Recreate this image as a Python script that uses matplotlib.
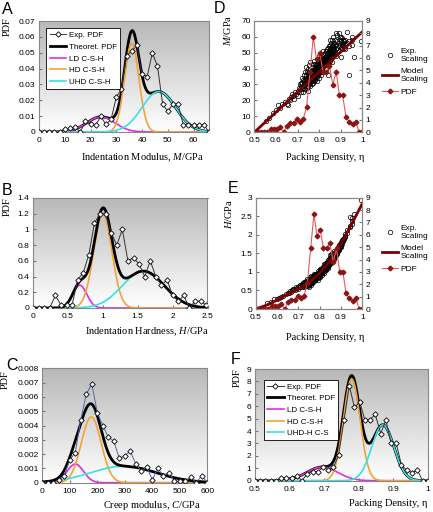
import numpy as np
import matplotlib.pyplot as plt
from matplotlib.ticker import FuncFormatter, MultipleLocator
from matplotlib.lines import Line2D

plt.rcParams['font.family'] = ['Liberation Sans', 'DejaVu Sans']
plt.rcParams['mathtext.fontset'] = 'custom'
plt.rcParams['mathtext.rm'] = 'Liberation Serif'
plt.rcParams['mathtext.it'] = 'Liberation Serif:italic'
SERIF = ['Liberation Serif', 'DejaVu Serif']
SANS = 'Liberation Sans'

W, H = 433, 512

# ---- A: indentation modulus M (GPa)
mod_x = [0, 2, 4, 6, 8, 10, 12, 14, 16, 18, 20, 22, 24, 26, 28, 30, 32,
         34, 36, 38, 40, 42, 44, 46, 48, 50, 52, 54, 56, 58, 60, 62, 64, 66]
mod_pdf = [0, 0, 0, 0, 0, 0.0019, 0.0023, 0.0033, 0, 0.0067, 0.0048, 0.0044,
           0.0098, 0.0048, 0.008, 0.022, 0.027, 0.048, 0.051, 0.0546, 0.0365,
           0.035, 0.0498, 0.0415, 0.0175, 0.013, 0.0175, 0.0175, 0.0046,
           0.0046, 0.0046, 0.0046, 0.0046, 0]
mod_mu = [24, 36, 46.5]
mod_sd = [5.5, 2.8, 6.5]
mod_peak = [0.0095, 0.056, 0.0255]

# ---- B: indentation hardness H (GPa)
hard_x = [0, 0.08, 0.16, 0.24, 0.32, 0.40, 0.48, 0.56, 0.64, 0.72, 0.80,
          0.88, 0.96, 1.04, 1.12, 1.20, 1.28, 1.36, 1.44, 1.52, 1.60, 1.68,
          1.76, 1.84, 1.92, 2.00, 2.08, 2.16, 2.24, 2.32, 2.40, 2.48]
hard_pdf = [0, 0, 0, 0, 0.16, 0.04, 0.04, 0.04, 0.36, 0.45, 0.68, 1.08, 1.2,
            1.2, 0.96, 0.8, 1.0, 0.6, 0.64, 0.56, 0.4, 0.6, 0.4, 0.29, 0.36,
            0.16, 0.085, 0.16, 0, 0.085, 0.085, 0.04]
hard_mu = [0.67, 1.0, 1.58]
hard_sd = [0.1, 0.13, 0.3]
hard_peak = [0.29, 1.2, 0.47]

# ---- C: creep modulus C (GPa)
creep_x = [0, 20, 40, 60, 80, 100, 120, 140, 160, 180, 200, 220, 240, 260,
           280, 300, 320, 340, 360, 380, 400, 420, 440, 460, 480, 500, 520,
           540, 560, 580, 600]
creep_pdf = [0, 0, 0, 0.0002, 0.0005, 0.0016, 0.0021, 0.0044, 0.0062, 0.0069,
             0.0049, 0.004, 0.0032, 0.0029, 0.0017, 0.0019, 0.0022, 0.0013,
             0.0008, 0.0011, 0.0002, 0.001, 0.0005, 0.0007, 0.0001, 0.0001,
             0.0001, 0.0004, 0, 0.0005, 0]
creep_mu = [120, 178, 295]
creep_sd = [30, 36, 120]
creep_peak = [0.0013, 0.0046, 0.00115]

# ---- F (and D/E right axis): packing density
eta_bins = [0.500, 0.515, 0.530, 0.545, 0.560, 0.576, 0.591, 0.606, 0.621,
            0.636, 0.651, 0.667, 0.682, 0.697, 0.712, 0.727, 0.742, 0.758,
            0.773, 0.788, 0.803, 0.818, 0.833, 0.848, 0.864, 0.879, 0.894,
            0.909, 0.924, 0.939, 0.955, 0.970, 0.985, 1.000]
eta_pdf = [0, 0, 0, 0, 0, 0.24, 0.24, 0.24, 0.4, 0, 0.54, 0.73, 0.73, 1.08,
           0.86, 1.08, 2.07, 4.9, 7.66, 5.9, 6.37, 4.9, 4.9, 5.35, 3.8, 4.9,
           3.0, 3.0, 1.26, 0.86, 0.65, 0.86, 0, 0]
eta_mu = [0.695, 0.78, 0.87]
eta_sd = [0.045, 0.024, 0.032]
eta_peak = [1.1, 8.2, 4.5]

# ---- D/E: scaling of M and H with packing density
eta_pts = [
    0.555, 0.570, 0.585, 0.600, 0.610, 0.620, 0.630, 0.640, 0.650, 0.655,
    0.660, 0.665, 0.670, 0.675, 0.680, 0.685, 0.690, 0.695, 0.700, 0.700,
    0.705, 0.710, 0.710, 0.715, 0.715, 0.718,
    0.720, 0.720, 0.720,
    0.725, 0.725, 0.725,
    0.730, 0.730, 0.730, 0.730,
    0.735, 0.735, 0.735, 0.735,
    0.740, 0.740, 0.740, 0.740, 0.740,
    0.745, 0.745, 0.745, 0.745, 0.745,
    0.750, 0.750, 0.750, 0.750, 0.750, 0.750,
    0.755, 0.755, 0.755, 0.755, 0.755, 0.755,
    0.760, 0.760, 0.760, 0.760, 0.760, 0.760, 0.760,
    0.765, 0.765, 0.765, 0.765, 0.765, 0.765,
    0.770, 0.770, 0.770, 0.770, 0.770, 0.770, 0.770,
    0.775, 0.775, 0.775, 0.775, 0.775, 0.775, 0.775,
    0.780, 0.780, 0.780, 0.780, 0.780, 0.780, 0.780,
    0.785, 0.785, 0.785, 0.785, 0.785, 0.785,
    0.790, 0.790, 0.790, 0.790, 0.790, 0.790, 0.790, 0.790,
    0.795, 0.795, 0.795, 0.795, 0.795, 0.795,
    0.800, 0.800, 0.800, 0.800, 0.800, 0.800, 0.800, 0.800,
    0.805, 0.805, 0.805, 0.805, 0.805, 0.805,
    0.810, 0.810, 0.810, 0.810, 0.810, 0.810, 0.810,
    0.815, 0.815, 0.815, 0.815, 0.815,
    0.820, 0.820, 0.820, 0.820, 0.820, 0.820, 0.820,
    0.825, 0.825, 0.825, 0.825, 0.825,
    0.830, 0.830, 0.830, 0.830, 0.830, 0.830,
    0.835, 0.835, 0.835, 0.835, 0.835,
    0.840, 0.840, 0.840, 0.840, 0.840, 0.840, 0.840,
    0.845, 0.845, 0.845, 0.845, 0.845,
    0.850, 0.850, 0.850, 0.850, 0.850, 0.850,
    0.855, 0.855, 0.855, 0.855, 0.855,
    0.860, 0.860, 0.860, 0.860, 0.860, 0.860,
    0.865, 0.865, 0.865, 0.865, 0.865,
    0.870, 0.870, 0.870, 0.870,
    0.875, 0.875, 0.875,
    0.880, 0.880, 0.880, 0.880,
    0.885, 0.885, 0.885,
    0.890, 0.890, 0.890, 0.890,
    0.895, 0.895, 0.895,
    0.900, 0.900, 0.900, 0.900,
    0.905, 0.905, 0.905,
    0.910, 0.910, 0.910,
    0.915, 0.915,
    0.920, 0.920, 0.920,
    0.930, 0.930,
    0.940, 0.940, 0.940,
    0.950, 0.950, 0.950,
    0.960,
    0.995,
]
m_pts = [
    7, 9, 12, 14, 17, 15, 18, 19, 18, 17,
    21, 20, 22, 24, 23, 21, 25, 24, 26, 23,
    28, 27, 30, 25, 29, 31,
    27, 31, 34,
    29, 25, 33,
    30, 28, 36, 32,
    31, 27, 34, 38,
    33, 29, 36, 31, 41,
    30, 34, 38, 28, 32,
    32, 35, 29, 37, 40, 26,
    33, 36, 30, 38, 34, 42,
    34, 31, 37, 29, 39, 35, 44,
    35, 32, 38, 30, 41, 36,
    36, 33, 39, 31, 43, 37, 34,
    37, 34, 40, 32, 38, 35, 45,
    38, 35, 41, 33, 39, 36, 43,
    39, 36, 42, 34, 40, 37,
    40, 37, 43, 35, 41, 38, 46, 32,
    41, 38, 44, 36, 42, 39,
    42, 39, 45, 37, 43, 40, 48, 34,
    43, 40, 46, 38, 44, 41,
    44, 41, 47, 39, 45, 42, 36,
    45, 42, 48, 40, 46,
    46, 43, 49, 41, 44, 38, 51,
    47, 44, 50, 42, 45,
    48, 45, 51, 43, 46, 40,
    49, 46, 52, 44, 47,
    50, 47, 53, 45, 48, 36, 42,
    51, 48, 54, 46, 44,
    52, 49, 55, 47, 45, 58,
    50, 53, 48, 46, 56,
    51, 54, 49, 47, 58, 44,
    52, 55, 50, 48, 60,
    53, 56, 51, 49,
    54, 58, 50,
    55, 62, 52, 48,
    57, 61, 53,
    56, 62, 51, 54,
    58, 55, 60,
    57, 53, 60, 47,
    55, 59, 52,
    56, 54, 58,
    57, 53,
    55, 52, 58,
    63, 56,
    54, 57, 36,
    58, 60, 55,
    47,
    57,
]
h_pts = [
    0.15, 0.20, 0.27, 0.28, 0.30, 0.33, 0.36, 0.40, 0.44, 0.43,
    0.48, 0.46, 0.52, 0.55, 0.53, 0.50, 0.58, 0.56, 0.60, 0.55,
    0.63, 0.60, 0.66, 0.58, 0.64, 0.68,
    0.62, 0.66, 0.70,
    0.64, 0.60, 0.72,
    0.65, 0.63, 0.74, 0.68,
    0.66, 0.61, 0.70, 0.76,
    0.70, 0.64, 0.73, 0.67, 0.80,
    0.67, 0.72, 0.78, 0.62, 0.69,
    0.70, 0.74, 0.66, 0.77, 0.82, 0.60,
    0.72, 0.76, 0.68, 0.79, 0.74, 0.85,
    0.75, 0.70, 0.79, 0.66, 0.82, 0.76, 0.90,
    0.78, 0.73, 0.82, 0.70, 0.86, 0.79,
    0.81, 0.76, 0.85, 0.72, 0.90, 0.83, 0.78,
    0.84, 0.79, 0.88, 0.75, 0.86, 0.80, 0.95,
    0.87, 0.82, 0.91, 0.78, 0.89, 0.84, 0.94,
    0.90, 0.85, 0.94, 0.81, 0.92, 0.87,
    0.93, 0.88, 0.97, 0.84, 0.95, 0.90, 1.02, 0.78,
    0.96, 0.91, 1.00, 0.87, 0.98, 0.93,
    0.99, 0.94, 1.04, 0.90, 1.01, 0.96, 1.08, 0.86,
    1.02, 0.97, 1.07, 0.93, 1.05, 0.99,
    1.05, 1.00, 1.10, 0.96, 1.08, 1.02, 0.92,
    1.08, 1.03, 1.14, 0.99, 1.11,
    1.11, 1.06, 1.17, 1.02, 1.09, 0.98, 1.22,
    1.14, 1.09, 1.20, 1.05, 1.12,
    1.18, 1.13, 1.24, 1.09, 1.16, 1.04,
    1.21, 1.16, 1.27, 1.12, 1.19,
    1.25, 1.20, 1.31, 1.16, 1.23, 1.10, 1.14,
    1.28, 1.24, 1.35, 1.20, 1.18,
    1.32, 1.28, 1.38, 1.24, 1.22, 1.45,
    1.34, 1.39, 1.30, 1.27, 1.46,
    1.38, 1.43, 1.34, 1.31, 1.50, 1.28,
    1.42, 1.47, 1.38, 1.35, 1.55,
    1.46, 1.51, 1.42, 1.39,
    1.50, 1.56, 1.46,
    1.55, 1.62, 1.50, 1.47,
    1.60, 1.66, 1.55,
    1.64, 1.72, 1.58, 1.62,
    1.70, 1.66, 1.74,
    1.76, 1.70, 1.80, 1.66,
    1.80, 1.85, 1.76,
    1.86, 1.83, 1.90,
    1.92, 1.88,
    1.98, 1.95, 2.02,
    2.12, 2.05,
    2.20, 2.25, 2.48,
    2.45, 2.38, 2.30,
    2.57,
    2.95,
]

# model scaling curves
model_m_eta = [0.5, 1.0]
model_m = [0, 63]
model_h_eta = [0.50, 0.55, 0.60, 0.65, 0.70, 0.75, 0.80, 0.85, 0.90, 0.95, 1.00]
model_h = [0, 0.10, 0.24, 0.40, 0.54, 0.71, 0.97, 1.31, 1.75, 2.29, 2.84]

LD_C, HD_C, UHD_C = '#e030e0', '#f4a236', '#36e0e6'
DARK_RED = '#7a0000'
PDF_RED = '#e85a5a'
PDF_MK = '#8b1414'


def px_rect(l, t, r, b):
    return [l / W, 1 - b / H, (r - l) / W, (b - t) / H]


def gauss(x, peak, mu, sd):
    return peak * np.exp(-0.5 * ((x - mu) / sd) ** 2)


def style(ax, xlim, ylim, xstep, ystep):
    ax.set_xlim(*xlim)
    ax.set_ylim(*ylim)
    ax.xaxis.set_major_locator(MultipleLocator(xstep))
    ax.yaxis.set_major_locator(MultipleLocator(ystep))
    fmt = FuncFormatter(lambda v, p: '%g' % round(v, 6))
    ax.xaxis.set_major_formatter(fmt)
    ax.yaxis.set_major_formatter(fmt)
    ax.tick_params(labelsize=6, direction='in', length=2, color='#777777')
    ax.tick_params(axis='x', pad=3.5)
    ax.tick_params(axis='y', pad=2.5)
    for s in ax.spines.values():
        s.set_color('#888888')
        s.set_linewidth(0.8)


def shade(ax):
    g = np.linspace(1.0, 0.72, 256)[:, None]
    ax.imshow(g, cmap='gray', vmin=0, vmax=1, extent=(0, 1, 0, 1), origin='lower',
              transform=ax.transAxes, aspect='auto', zorder=0, interpolation='bilinear')


def pdf_panel(rect, x, y, peaks, mus, sds, xlim, ylim, xstep, ystep,
              exp_color='#333333', comps_on_top=False, legend=None):
    ax = fig.add_axes(rect)
    shade(ax)
    xs = np.linspace(xlim[0], xlim[1], 500)
    parts = [gauss(xs, p, m, s) for p, m, s in zip(peaks, mus, sds)]
    total = np.sum(parts, axis=0)
    zc = 4 if comps_on_top else 2
    ax.plot(x, y, color=exp_color, lw=0.7, marker='D', ms=2.8, mfc='white',
            mec='black', mew=0.6, zorder=5, label='Exp. PDF')
    ax.plot(xs, total, color='black', lw=2.0, zorder=3, label='Theoret. PDF')
    for part, c, lab in zip(parts, [LD_C, HD_C, UHD_C], legend or ['', '', '']):
        ax.plot(xs, part, color=c, lw=1.2, zorder=zc, label=lab)
    style(ax, xlim, ylim, xstep, ystep)
    return ax


def box_legend(ax, anchor):
    leg = ax.legend(loc='upper left', bbox_to_anchor=anchor, prop={'family': SANS, 'size': 5.8},
                    fancybox=False, framealpha=1, edgecolor='black', handlelength=2.0,
                    handletextpad=0.4, labelspacing=0.5, borderpad=0.4)
    leg.get_frame().set_linewidth(0.6)


fig = plt.figure(figsize=(W / 100, H / 100), dpi=100)

labs_a = ['LD C-S-H', 'HD C-S-H', 'UHD C-S-H']
ax_a = pdf_panel(px_rect(39, 21, 209, 132), mod_x, mod_pdf, mod_peak, mod_mu, mod_sd,
                 (0, 66), (0, 0.07), 10, 0.01, comps_on_top=True, legend=labs_a)
box_legend(ax_a, (0.02, 0.97))

pdf_panel(px_rect(33, 198, 207.5, 308), hard_x, hard_pdf, hard_peak, hard_mu, hard_sd,
          (0, 2.5), (0, 1.4), 0.5, 0.2)

pdf_panel(px_rect(42.3, 368.3, 207.3, 482.7), creep_x, creep_pdf, creep_peak, creep_mu,
          creep_sd, (0, 600), (0, 0.008), 100, 0.001, exp_color='#5565a8')

labs_f = ['LD C-S-H', 'HD C-S-H', 'UHD-H C-S']
ax_f = pdf_panel(px_rect(255, 369, 427.7, 480.7), eta_bins, eta_pdf, eta_peak, eta_mu,
                 eta_sd, (0.5, 1.0), (0, 9), 0.1, 1, comps_on_top=True, legend=labs_f)
box_legend(ax_f, (0.03, 0.94))


def scaling_panel(rect, yvals, meta, mvals, ylim, ystep, legend_top):
    ax = fig.add_axes(rect)
    ax.plot(eta_pts, yvals, 'o', mfc='none', mec='black', ms=3.2, mew=0.5, zorder=2)
    ax.plot(meta, mvals, color=DARK_RED, lw=2, zorder=3)
    style(ax, (0.5, 1.0), ylim, 0.1, ystep)
    ax2 = ax.twinx()
    ax2.plot(eta_bins, eta_pdf, color=PDF_RED, lw=0.8, marker='D', ms=2.4,
             mfc=PDF_MK, mec=PDF_MK)
    style(ax2, (0.5, 1.0), (0, 9), 0.1, 1)
    h1 = Line2D([], [], ls='none', marker='o', mfc='none', mec='black', ms=3.2, mew=0.5)
    h2 = Line2D([], [], color=DARK_RED, lw=2)
    h3 = Line2D([], [], color=PDF_RED, lw=0.8, marker='D', ms=2.4, mfc=PDF_MK, mec=PDF_MK)
    fig.legend([h1, h2, h3], ['Exp.\nScaling', 'Model\nScaling', 'PDF'],
               loc='upper left', bbox_to_anchor=(382 / W, 1 - legend_top / H),
               frameon=False, prop={'family': SANS, 'size': 6}, handlelength=1.9,
               handletextpad=0.3, labelspacing=0.6, borderpad=0, borderaxespad=0)


scaling_panel(px_rect(254.3, 20.7, 362.3, 132.3), m_pts, model_m_eta, model_m,
              (0, 70), 10, 48)
scaling_panel(px_rect(255.7, 197.7, 362.3, 309), h_pts, model_h_eta, model_h,
              (0, 3), 0.5, 225)


def ftext(x, y, s, **kw):
    fig.text(x / W, 1 - y / H, s, **kw)


lab_kw = dict(family=SERIF, fontsize=7.5, ha='center', va='center')
ftext(143, 157.5, 'Indentation Modulus, $M$/GPa', **lab_kw)
ftext(147, 332, 'Indentation Hardness, $H$/GPa', **lab_kw)
ftext(152, 505, 'Creep modulus, $C$/GPa', **lab_kw)
ftext(325, 157.5, 'Packing Density, η', **lab_kw)
ftext(325, 337, 'Packing Density, η', **lab_kw)
ftext(388, 503, 'Packing Density, η', **lab_kw)

rot_kw = dict(family=SERIF, fontsize=7.5, ha='center', va='center', rotation=90)
ftext(7, 27, 'PDF', **rot_kw)
ftext(7, 207, 'PDF', **rot_kw)
ftext(5, 380, 'PDF', **rot_kw)
ftext(237, 378, 'PDF', **rot_kw)
ftext(227, 30, '$M$/GPa', **rot_kw)
ftext(228, 214, '$H$/GPa', **rot_kw)

let_kw = dict(fontsize=11.5, ha='left', va='top')
ftext(2, 2, 'A', **let_kw)
ftext(2, 183, 'B', **let_kw)
ftext(6, 358, 'C', **let_kw)
ftext(214, 1, 'D', **let_kw)
ftext(228, 181, 'E', **let_kw)
ftext(231, 352, 'F', **let_kw)

fig.savefig('out.png', dpi=100)
